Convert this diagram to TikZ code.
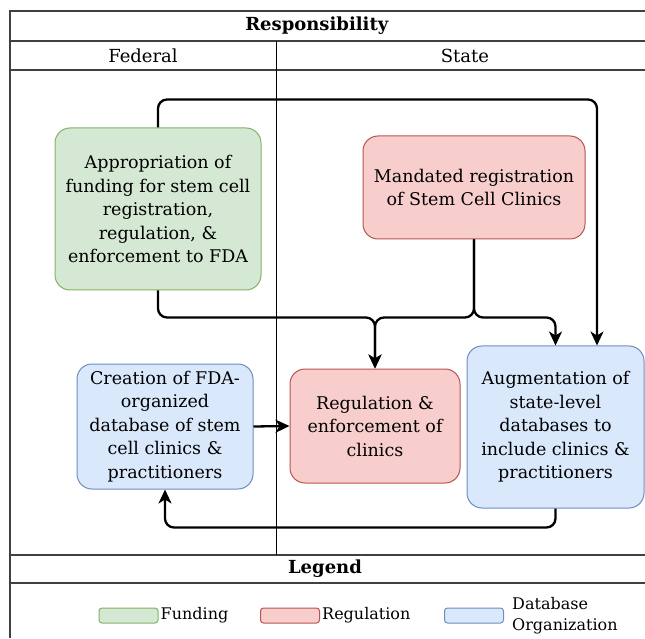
\documentclass[tikz,border=0pt]{standalone}
\usepackage{fontspec}
\setmainfont{DejaVu Serif}
\usetikzlibrary{shapes.geometric, arrows.meta, positioning}
\definecolor{fundfill}{HTML}{D5E8D4}
\definecolor{fundline}{HTML}{82B366}
\definecolor{regfill}{HTML}{F8CECC}
\definecolor{regline}{HTML}{B85450}
\definecolor{dbfill}{HTML}{DAE8FC}
\definecolor{dbline}{HTML}{6C8EBF}
\tikzstyle{box} = [rectangle, rounded corners=15pt, align=center, line width=1pt, inner sep=0pt, font=\fontsize{17.5}{23.5}\selectfont]
\tikzstyle{funding} = [box, draw=fundline, fill=fundfill]
\tikzstyle{regulation} = [box, draw=regline, fill=regfill]
\tikzstyle{database} = [box, draw=dbline, fill=dbfill]
\tikzstyle{swatch} = [minimum width=59pt, minimum height=15pt, rounded corners=3pt]
\tikzstyle{head} = [font=\fontsize{18}{22}\selectfont]
\tikzstyle{legtext} = [font=\fontsize{16}{21}\selectfont, align=left, inner sep=1pt]
\tikzstyle{frame} = [line width=1.3pt, draw=black!75]
\tikzstyle{arrow} = [line width=2.3pt, ->, >={Stealth[length=14pt, width=13pt, inset=4pt]}, rounded corners=9pt]

\begin{document}
\begin{tikzpicture}[x=1pt, y=1pt]
\useasboundingbox (0,0) rectangle (645,638);
% table
\draw [frame] (10,0) -- (10,627) -- (645,627);
\draw [frame] (10,597) -- (645,597);
\draw [frame] (10,568) -- (645,568);
\draw [frame] (10,83) -- (645,83);
\draw [frame] (10,55) -- (645,55);
\draw [line width=0.8pt] (276,597) -- (276,83);
\node (resp) [head] at (317,612) {\textbf{Responsibility}};
\node (fed) [head] at (143,582.5) {Federal};
\node (state) [head] at (465,582.5) {State};
\node (leg) [head] at (325,69) {\textbf{Legend}};

% steps
\node (fund) [funding, minimum width=206pt, minimum height=162pt] at (158,429) {Appropriation of\\funding for stem cell\\registration,\\regulation, \&\\enforcement to FDA};
\node (mandate) [regulation, minimum width=222pt, minimum height=103pt] at (474,450.5) {Mandated registration\\of Stem Cell Clinics};
\node (fdadb) [database, minimum width=176pt, minimum height=125pt] at (165,211.5) {Creation of FDA-\\organized\\database of stem\\cell clinics \&\\practitioners};
\node (regul) [regulation, minimum width=170pt, minimum height=114pt] at (375,212) {Regulation \&\\enforcement of\\clinics};
\node (augment) [database, minimum width=177pt, minimum height=162pt] at (555.5,211) {Augmentation of\\state-level\\databases to\\include clinics \&\\practitioners};

\draw [arrow] (fund.north) -- ++(0,28) -| ([xshift=41.5pt]augment.north);
\draw [arrow] (fund.south) |- ([yshift=51pt]regul.north) -- (regul.north);
\draw [arrow] (mandate.south) |- ([yshift=51pt]regul.north) -- (regul.north);
\draw [arrow] (mandate.south) |- ([yshift=28pt]augment.north) -- (augment.north);
\draw [arrow] (fdadb.east) -- (regul.west);
\draw [arrow] (augment.south) -- ++(0,-19) -| (fdadb.south);

% legend
\node (swfund) [funding, swatch] at (128.5,22.5) {};
\node (lfund) [legtext, right=1pt of swfund] {Funding};
\node (swreg) [regulation, swatch] at (290,22.5) {};
\node (lreg) [legtext, right=1pt of swreg] {Regulation};
\node (swdb) [database, swatch] at (474,22.5) {};
\node (ldb) [legtext, right=7pt of swdb] {Database\\Organization};
\end{tikzpicture}
\end{document}
